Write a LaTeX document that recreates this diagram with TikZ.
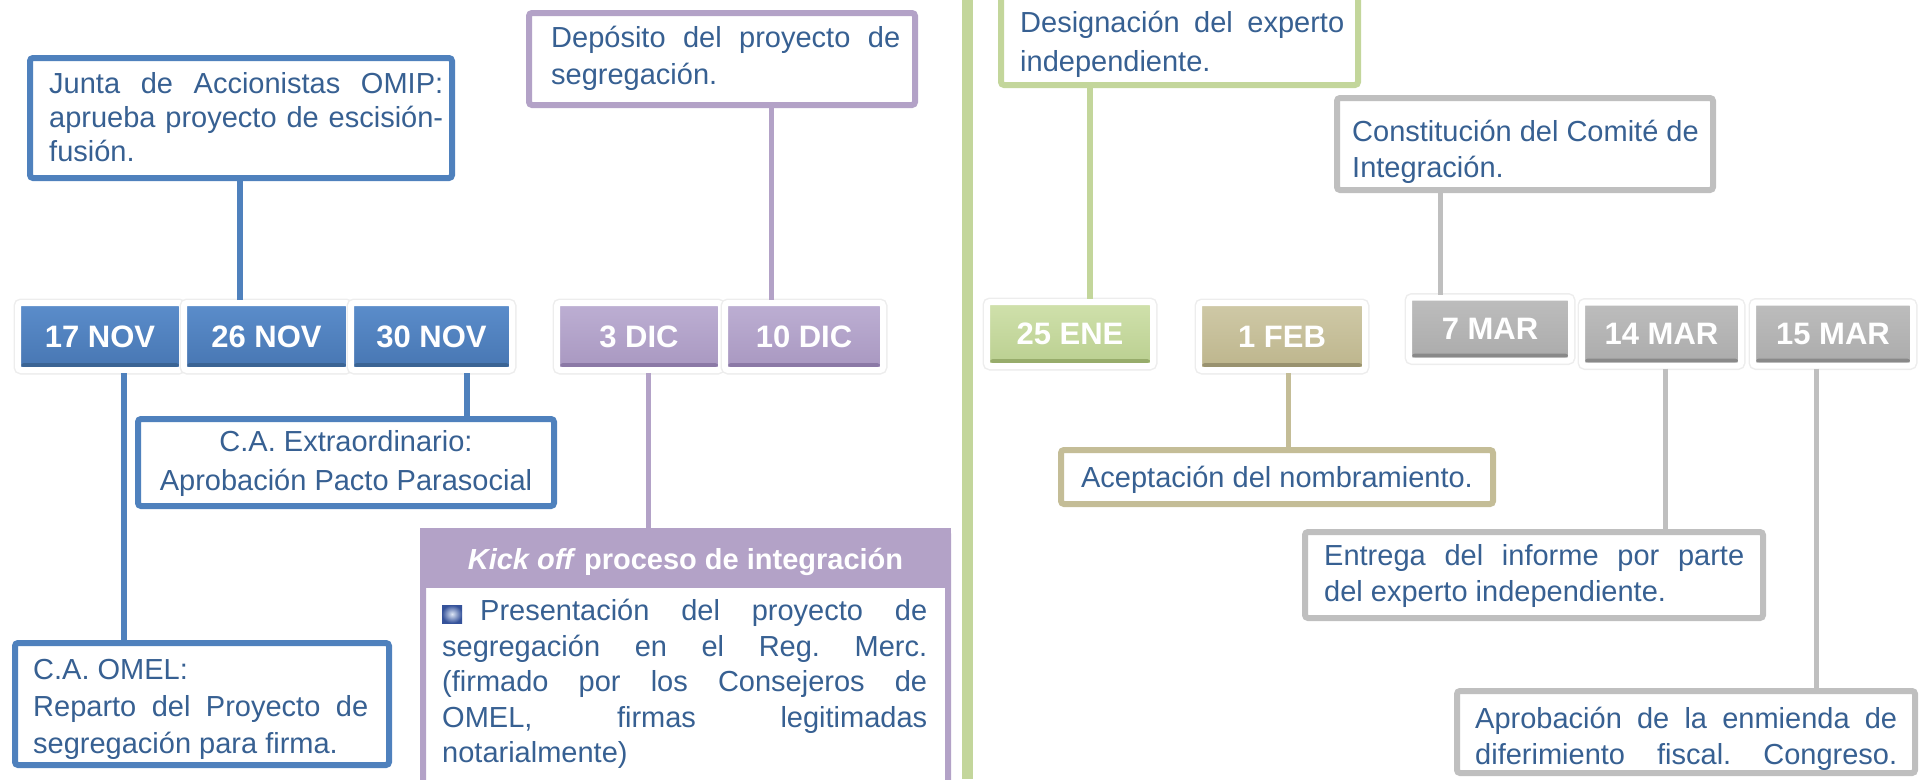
\documentclass[tikz,border=0pt]{standalone}
\usepackage{fontspec}
\setmainfont{Liberation Sans}
\usetikzlibrary{shadows}
\frenchspacing
\definecolor{txt}{HTML}{376092}
\definecolor{blueb}{HTML}{4F81BD}
\definecolor{bluetop}{HTML}{5B8DCB}
\definecolor{bluebot}{HTML}{4776B2}
\definecolor{blueedge}{HTML}{3B6494}
\definecolor{purb}{HTML}{B3A2C7}
\definecolor{purtop}{HTML}{BDAFD3}
\definecolor{purbot}{HTML}{A897C0}
\definecolor{puredge}{HTML}{8B79A6}
\definecolor{grnb}{HTML}{C3D69B}
\definecolor{grntop}{HTML}{D0E1AC}
\definecolor{grnbot}{HTML}{BACF90}
\definecolor{grnedge}{HTML}{97AC6B}
\definecolor{tanb}{HTML}{C4BD97}
\definecolor{tantop}{HTML}{CFC9A7}
\definecolor{tanbot}{HTML}{BDB58C}
\definecolor{tanedge}{HTML}{99926F}
\definecolor{gryb}{HTML}{BFBFBF}
\definecolor{grytop}{HTML}{BDBDBD}
\definecolor{grybot}{HTML}{ABABAB}
\definecolor{gryedge}{HTML}{898989}
\definecolor{bulout}{HTML}{35529A}
\definecolor{bulin}{HTML}{DDE6F5}
\newcommand\datefont{\fontsize{31}{36}\selectfont\bfseries}
\newcommand\jline[2]{\makebox[#1pt][s]{#2}}
\tikzset{
  dbox/.style={rectangle, draw=white, line width=6pt, inner sep=0pt, outer sep=3pt,
    rounded corners=3pt,
    text=white, font=\datefont, top color=#1top, bottom color=#1bot,
    drop shadow={opacity=0.15, shadow xshift=0pt, shadow yshift=-4pt},
    preaction={draw=black!7, line width=9pt},
    path picture={\fill[#1edge] ([xshift=3pt,yshift=3pt]path picture bounding box.south west)
      rectangle ([xshift=-3pt,yshift=7pt]path picture bounding box.south east);}},
  cbox/.style={rectangle, draw=#1, line width=6pt, fill=white, rounded corners=3pt,
    inner sep=0pt, outer sep=3pt},
  conn/.style={draw=#1, line width=5pt},
  tblock/.style={text=txt, font=\fontsize{29}{#1}\selectfont, align=left, inner sep=0pt, anchor=west},
  cblock/.style={text=txt, font=\fontsize{29}{#1}\selectfont, align=center, inner sep=0pt}
}
\begin{document}
\begin{tikzpicture}[x=1pt,y=-1pt]
\useasboundingbox (0,0) rectangle (1919,779);
% divider
\fill[grnb] (962,0) rectangle (973,779);
% connector x positions
\coordinate (c1) at (240,0);
\coordinate (c2) at (124,0);
\coordinate (c3) at (467,0);
\coordinate (c4) at (771,0);
\coordinate (c5) at (648,0);
\coordinate (c6) at (1090,0);
\coordinate (c7) at (1288,0);
\coordinate (c8) at (1440,0);
\coordinate (c9) at (1665,0);
\coordinate (c10) at (1816,0);
% date boxes
\node[dbox=blue, minimum width=164, minimum height=67] (d17) at (100,336.5) {17 NOV};
\node[dbox=blue, minimum width=165, minimum height=67] (d26) at (266.5,336.5) {26 NOV};
\node[dbox=blue, minimum width=161, minimum height=67] (d30) at (431.5,336.5) {30 NOV};
\node[dbox=pur, minimum width=164, minimum height=67] (d3) at (639,336.5) {3 DIC};
\node[dbox=pur, minimum width=158, minimum height=67] (d10) at (804,336.5) {10 DIC};
\node[dbox=grn, minimum width=166, minimum height=64] (d25) at (1070,334) {25 ENE};
\node[dbox=tan, minimum width=166, minimum height=67] (d1) at (1282,336.5) {1 FEB};
\node[dbox=gry, minimum width=162, minimum height=63] (d7) at (1490,329) {7 MAR};
\node[dbox=gry, minimum width=159, minimum height=63] (d14) at (1661.5,334) {14 MAR};
\node[dbox=gry, minimum width=160, minimum height=63] (d15) at (1833,334) {15 MAR};
% callout boxes
\node[cbox=blueb, minimum width=422, minimum height=120] (jbox) at (241,118) {};
\node[cbox=purb, minimum width=386, minimum height=92] (dep) at (722,59) {};
\node[cbox=grnb, minimum width=357, minimum height=92] (des) at (1179.5,39) {};
\node[cbox=gryb, minimum width=376, minimum height=92] (con) at (1525,144) {};
\node[cbox=blueb, minimum width=416, minimum height=87] (cae) at (346,462.5) {};
\node[cbox=blueb, minimum width=374, minimum height=122] (omel) at (202,704) {};
\node[cbox=purb, minimum width=525, minimum height=286] (kick) at (685.5,674) {};
\node[rectangle, fill=purb, minimum width=531, minimum height=60, inner sep=0pt] (khead) at (685.5,558) {};
\node[text=white, font=\fontsize{29}{35}\selectfont\bfseries, inner sep=0pt] (khtext) at (685.5,562)
  {\textit{Kick off} proceso de integración};
\node[cbox=tanb, minimum width=432, minimum height=54] (acep) at (1277,477) {};
\node[cbox=gryb, minimum width=458, minimum height=86] (ent) at (1534,575) {};
\node[cbox=gryb, minimum width=458, minimum height=82] (apr) at (1686,732) {};
% connectors
\draw[conn=blueb, line width=6pt] (jbox.south -| c1) -- (c1 |- d26.north);
\draw[conn=blueb, line width=6pt] (d17.south -| c2) -- (c2 |- omel.north);
\draw[conn=blueb, line width=6pt] (d30.south -| c3) -- (c3 |- cae.north);
\draw[conn=purb] (dep.south -| c4) -- (c4 |- d10.north);
\draw[conn=purb] (d3.south -| c5) -- (c5 |- kick.north);
\draw[conn=grnb, line width=6pt] (des.south -| c6) -- (c6 |- d25.north);
\draw[conn=tanb] (d1.south -| c7) -- (c7 |- acep.north);
\draw[conn=gryb] (con.south -| c8) -- (c8 |- d7.north);
\draw[conn=gryb] (d14.south -| c9) -- (c9 |- ent.north);
\draw[conn=gryb] (d15.south -| c10) -- (c10 |- apr.north);
% texts
\node[tblock=34] (jt) at (49,117) {\jline{394}{Junta de Accionistas OMIP:}\\\jline{394}{aprueba proyecto de escisión-}\\fusión.};
\node[tblock=37] (dt) at (551,58) {\jline{349}{Depósito del proyecto de}\\segregación.};
\node[tblock=39] (gt) at (1020,44) {\jline{324}{Designación del experto}\\independiente.};
\node[tblock=36] (ct) at (1352,152) {Constitución del Comité de\\Integración.};
\node[cblock=39] (cat) at (346,463) {C.A. Extraordinario:\\Aprobación Pacto Parasocial};
\node[tblock=37] (ot) at (33,709) {C.A. OMEL:\\\jline{335}{Reparto del Proyecto de}\\segregación para firma.};
\node[rectangle, minimum width=20, minimum height=18, inner sep=0pt,
  inner color=bulin, outer color=bulout] (bul) at (452,614) {};
\node[tblock=35.5] (kt) at (442,684) {\jline{485}{\hspace*{38pt}Presentación del proyecto de}\\\jline{485}{segregación en el Reg. Merc.}\\\jline{485}{(firmado por los Consejeros de}\\\jline{485}{OMEL, firmas legitimadas}\\notarialmente)};
\node[cblock=35] (at) at (1277,480) {Aceptación del nombramiento.};
\node[tblock=36] (et) at (1324,576) {\jline{420}{Entrega del informe por parte}\\del experto independiente.};
\node[tblock=36] (pt) at (1475,739) {\jline{422}{Aprobación de la enmienda de}\\\jline{422}{diferimiento fiscal. Congreso.}};
\end{tikzpicture}
\end{document}
